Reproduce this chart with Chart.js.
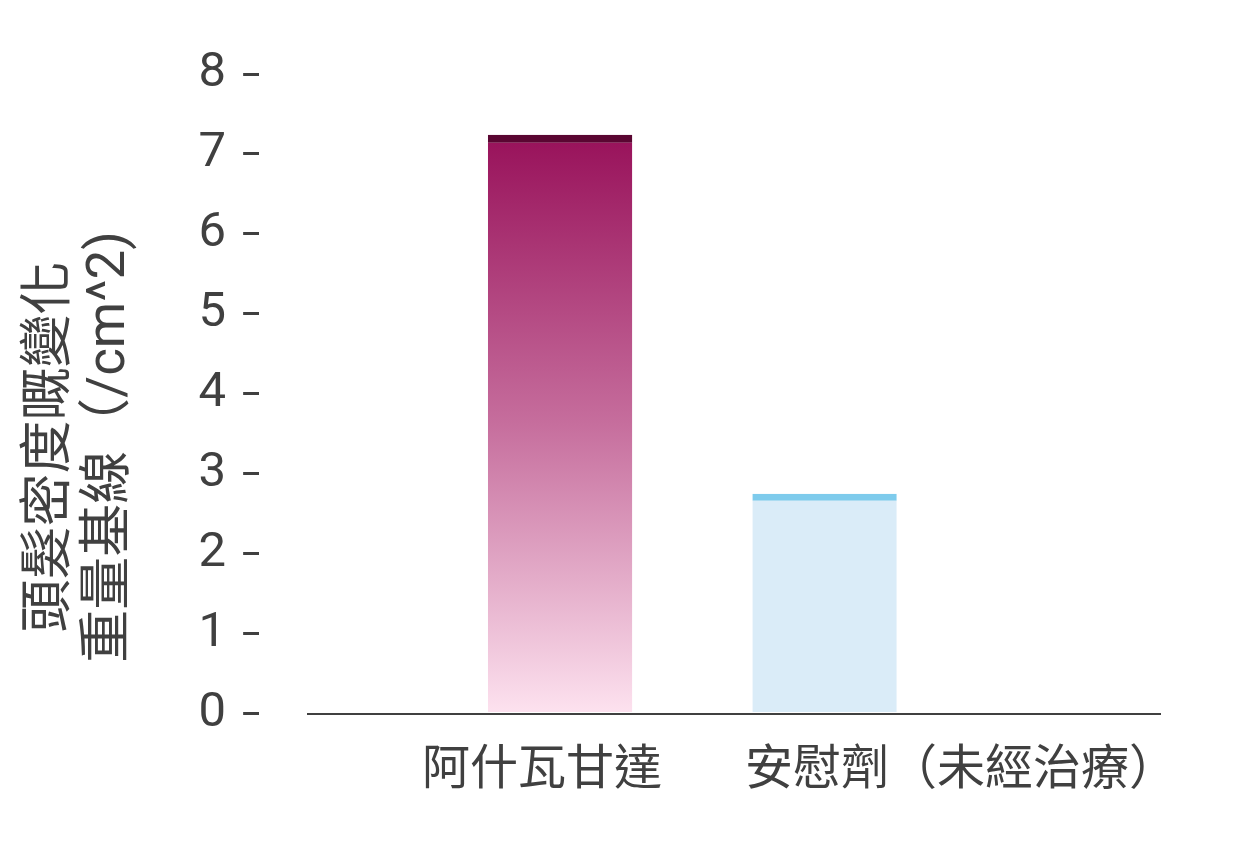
<!DOCTYPE html>
<html>
<head>
<meta charset="utf-8">
<script src="https://cdn.jsdelivr.net/npm/chart.js@4/dist/chart.umd.min.js"></script>
<style>
  html, body { margin: 0; padding: 0; background: #ffffff; }
  #wrap { width: 1253px; height: 848px; position: relative; }
</style>
</head>
<body>
<div id="wrap"><canvas id="c"></canvas></div>
<script>
// ---- data ----
const categories = ['阿什瓦甘達', '安慰劑（未經治療）'];
const values = [7.24, 2.75];
const yTickValues = [0, 1, 2, 3, 4, 5, 6, 7, 8];
const yTitle = ['頭髮密度嘅變化', '重量基線（/cm^2)'];

// ---- styles ----
const TEXT = '#404040';
const FONT = "Roboto, 'Noto Sans CJK TC', sans-serif";

function barFill(c) {
  const chart = c.chart;
  if (c.dataIndex === 1) return '#daecf8';
  if (!chart.chartArea) return '#c66e9d';
  const ys = chart.scales.y;
  const g = chart.ctx.createLinearGradient(0, ys.getPixelForValue(values[0]), 0, ys.getPixelForValue(0));
  g.addColorStop(0, '#98115a');
  g.addColorStop(0.5, '#c66e9d');
  g.addColorStop(1, '#fde2ef');
  return g;
}

new Chart(document.getElementById('c'), {
  type: 'bar',
  data: {
    datasets: [{
      data: values.map((v, i) => ({ x: i, y: v })),
      backgroundColor: barFill,
      borderColor: ['#5a0632', '#7ecbec'],
      borderWidth: [
        { top: 8, left: 0, right: 0, bottom: 0 },
        { top: 7, left: 0, right: 0, bottom: 0 }
      ],
      borderSkipped: 'start',
      categoryPercentage: 1,
      barPercentage: 0.546
    }]
  },
  options: {
    responsive: true,
    maintainAspectRatio: false,
    animation: false,
    layout: { padding: { top: 74, right: 93, bottom: 28, left: 0 } },
    plugins: { legend: { display: false }, tooltip: { enabled: false } },
    scales: {
      x: {
        type: 'linear',
        position: { y: 0 },
        min: -0.9527,
        max: 2.2684,
        bounds: 'data',
        offset: false,
        grid: { display: false, drawTicks: false },
        border: { display: true, color: TEXT, width: 2 },
        afterBuildTicks: (s) => { s.ticks = [{ value: -0.068 }, { value: 1.516 }]; },
        ticks: {
          autoSkip: false,
          maxRotation: 0,
          minRotation: 0,
          padding: 30,
          color: TEXT,
          font: { family: FONT, size: 48 },
          callback: (v, i) => categories[i]
        }
      },
      y: {
        type: 'linear',
        position: 'left',
        weight: 1,
        min: -1.332,
        max: 8,
        afterBuildTicks: (s) => { s.ticks = yTickValues.map(v => ({ value: v })); },
        grid: { display: true, drawOnChartArea: false, drawTicks: true, tickLength: 16, color: TEXT, lineWidth: 3 },
        border: { display: false },
        ticks: {
          padding: 17,
          color: TEXT,
          font: { family: FONT, size: 49, lineHeight: 0.4 },
          callback: (v) => String(v)
        },
        title: {
          display: true,
          text: yTitle,
          color: TEXT,
          font: { family: FONT, size: 53, lineHeight: 1.1 },
          padding: { top: 23, bottom: 42 }
        }
      },
      y2: {
        type: 'linear',
        position: 'left',
        weight: 0,
        display: true,
        grid: { display: false, drawTicks: false },
        border: { display: false },
        ticks: { display: false },
        afterFit: (s) => { s.width = 49; }
      }
    }
  }
});
</script>
</body>
</html>
